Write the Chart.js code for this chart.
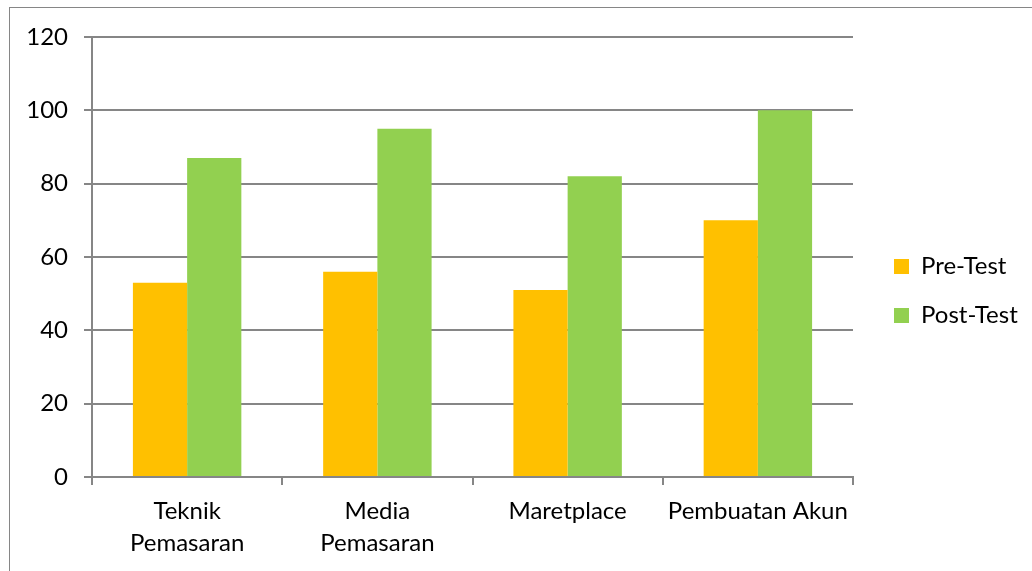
<!DOCTYPE html>
<html>
<head>
<meta charset="utf-8">
<script src="https://cdn.jsdelivr.net/npm/chart.js@4/dist/chart.umd.min.js"></script>
<style>
    html, body { margin: 0; padding: 0; background: #fff; }
    #wrap { position: relative; width: 1032px; height: 571px; overflow: hidden; }
    #frame { position: absolute; left: 9px; top: 7px; width: 1040px; height: 600px; border: 1px solid #868686; }
    #barChart { position: absolute; left: 0; top: 0; }
</style>
</head>
<body>
<div id="wrap">
    <div id="frame"></div>
    <canvas id="barChart" width="1032" height="571"></canvas>
</div>
<script>
var categories = [['Teknik', 'Pemasaran'], ['Media', 'Pemasaran'], 'Maretplace', 'Pembuatan Akun'];
var preTest = [53, 56, 51, 70];
var postTest = [87, 95, 82, 100];
var yTicks = [0, 20, 40, 60, 80, 100, 120];

var fontFamily = 'Lato, "Open Sans", sans-serif';
Chart.defaults.font.family = fontFamily;
Chart.defaults.color = '#000';

// fixed legend width, and nudge legend to where the reference has it
var legendTweak = {
    id: 'legendTweak',
    beforeInit: function (chart) {
        var legend = chart.legend;
        var fit = legend.fit;
        legend.fit = function () {
            fit.call(this);
            this.width = 170;
        };
        var draw = legend.draw;
        legend.draw = function () {
            var ctx = this.ctx;
            ctx.save();
            ctx.translate(16, -13);
            draw.apply(this, arguments);
            ctx.restore();
        };
    }
};

var ctxBar = document.getElementById('barChart').getContext('2d');
var barChart = new Chart(ctxBar, {
    type: 'bar',
    data: {
        labels: categories,
        datasets: [{
            label: 'Pre-Test',
            data: preTest,
            backgroundColor: '#FFC000',
            borderWidth: 0,
        }, {
            label: 'Post-Test',
            data: postTest,
            backgroundColor: '#92D050',
            borderWidth: 0,
        }]
    },
    options: {
        responsive: false,
        animation: false,
        layout: { padding: { left: 20, top: 37, right: 9, bottom: 0 } },
        datasets: { bar: { categoryPercentage: 0.57, barPercentage: 1 } },
        scales: {
            x: {
                offset: true,
                grid: { offset: true, drawOnChartArea: false, color: '#868686', lineWidth: 2, tickLength: 8 },
                border: { color: '#868686', width: 2 },
                ticks: { font: { size: 24, lineHeight: 1.3 }, padding: 11, maxRotation: 0, autoSkip: false },
                afterFit: function (scale) { scale.height = 94; }
            },
            y: {
                min: 0,
                max: 120,
                afterBuildTicks: function (scale) { scale.ticks = yTicks.map(function (v) { return { value: v }; }); },
                grid: { color: '#868686', lineWidth: 2, tickLength: 8 },
                border: { color: '#868686', width: 2 },
                ticks: { font: { size: 24 }, padding: 16 },
                afterFit: function (scale) { scale.width = 72; }
            }
        },
        plugins: {
            legend: {
                position: 'right',
                align: 'center',
                labels: { boxWidth: 15, boxHeight: 15, padding: 25, font: { size: 24 } }
            },
            tooltip: { enabled: false }
        }
    },
    plugins: [legendTweak]
});
</script>
</body>
</html>
